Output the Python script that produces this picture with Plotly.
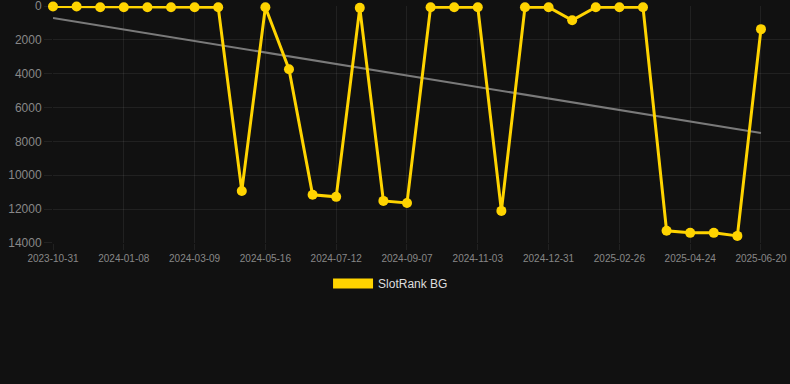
import plotly.graph_objects as go

dates = [
    "2023-10-31", "2023-11-23", "2023-12-16", "2024-01-08", "2024-01-28", "2024-02-17",
    "2024-03-09", "2024-04-01", "2024-04-24", "2024-05-16", "2024-06-04", "2024-06-23",
    "2024-07-12", "2024-07-31", "2024-08-19", "2024-09-07", "2024-09-26", "2024-10-15",
    "2024-11-03", "2024-11-22", "2024-12-12", "2024-12-31", "2025-01-19", "2025-02-07",
    "2025-02-26", "2025-03-17", "2025-04-05", "2025-04-24", "2025-05-13", "2025-06-01",
    "2025-06-20",
]
ranks = [
    20, 20, 60, 60, 60, 60, 60, 60, 10930, 60, 3730, 11160,
    11280, 100, 11520, 11640, 60, 60, 60, 12110, 60, 60, 830, 60,
    60, 60, 13290, 13410, 13410, 13590, 1360,
]
trend_dates = [dates[0], dates[-1]]
trend_values = [700, 7500]
tick_dates = dates[::3]
y_ticks = [0, 2000, 4000, 6000, 8000, 10000, 12000, 14000]
y_tick_labels = [str(v) for v in y_ticks]
series_name = "SlotRank BG"

gold = "#FFD400"
grid = "rgba(255,255,255,0.07)"

fig = go.Figure()
fig.add_trace(go.Scatter(
    x=trend_dates, y=trend_values, mode="lines",
    line=dict(color="#7a7a7a", width=2), showlegend=False, hoverinfo="skip",
    cliponaxis=False,
))
fig.add_trace(go.Scatter(
    x=dates, y=ranks, mode="lines+markers",
    line=dict(color=gold, width=3),
    marker=dict(color=gold, size=10),
    showlegend=False, cliponaxis=False,
))
fig.add_trace(go.Scatter(
    x=[None], y=[None], mode="lines", name=series_name,
    line=dict(color=gold, width=12), showlegend=True,
))

fig.update_layout(
    width=790, height=384,
    paper_bgcolor="#111111", plot_bgcolor="#111111",
    margin=dict(l=53, r=0, t=6, b=141),
    font=dict(family="Liberation Sans, Arial, sans-serif", color="#888888"),
    showlegend=True,
    legend=dict(
        orientation="h", x=0.458, xanchor="center", y=-0.11, yanchor="top",
        font=dict(size=12, color="#dddddd"), bgcolor="rgba(0,0,0,0)",
        itemwidth=40,
    ),
    xaxis=dict(
        type="category", categoryorder="array", categoryarray=dates,
        range=[0, 31.23], tickmode="array", tickvals=tick_dates, ticktext=tick_dates,
        showgrid=True, gridcolor=grid, gridwidth=1, zeroline=False, showline=False,
        ticks="outside", ticklen=6, tickcolor=grid, tickfont=dict(size=10, color="#888888"),
        tickangle=0, ticklabeloverflow="allow",
    ),
    yaxis=dict(
        range=[14010, -10], tickmode="array", tickvals=y_ticks, ticktext=y_tick_labels,
        showgrid=True, gridcolor=grid, gridwidth=1, zeroline=False, showline=False,
        ticks="outside", ticklen=8, tickcolor=grid, tickfont=dict(size=12, color="#888888"),
        ticklabeloverflow="allow",
    ),
)

fig.write_html(
    "out.html",
    config={"displayModeBar": False},
    post_script="document.body.style.margin='0';document.body.style.background='#111111';",
)
